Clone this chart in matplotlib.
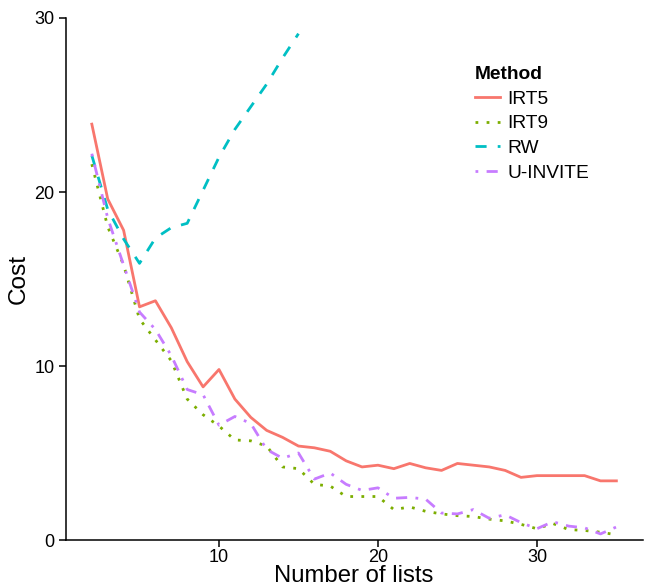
import numpy as np
import matplotlib
matplotlib.use("Agg")
import matplotlib.pyplot as plt

plt.rcParams['font.family'] = ['Liberation Sans', 'DejaVu Sans']

# Число списков
n_lists = list(range(2, 36))

# Стоимость для каждого метода
irt5 = [23.9, 19.6, 17.8, 13.4, 13.75, 12.2, 10.25, 8.8, 9.8, 8.1, 7.05, 6.3, 5.9, 5.4,
        5.3, 5.1, 4.55, 4.2, 4.3, 4.1, 4.4, 4.15, 4.0, 4.4, 4.3, 4.2, 4.0, 3.6,
        3.7, 3.7, 3.7, 3.7, 3.4, 3.4]
irt9 = [21.6, 18.0, 15.8, 12.7, 11.5, 10.3, 8.1, 7.2, 6.55, 5.75, 5.7, 5.4, 4.2, 4.1,
        3.2, 3.1, 2.5, 2.5, 2.5, 1.75, 1.9, 1.65, 1.5, 1.4, 1.35, 1.2, 1.1, 0.9,
        0.65, 0.95, 0.6, 0.55, 0.45, 0.3]
# RW выходит за 30 после 15 списков
rw_lists = list(range(2, 16))
rw = [22.1, 19.0, 17.3, 15.9, 17.35, 17.95, 18.2, 20.1, 22.0, 23.6, 24.9, 26.2, 27.7, 29.1]
uinvite = [22.2, 18.5, 15.8, 13.1, 12.1, 10.6, 8.65, 8.35, 6.6, 7.1, 6.7, 5.2, 4.7, 5.0,
           3.5, 3.85, 3.2, 2.85, 3.0, 2.4, 2.45, 2.35, 1.55, 1.5, 1.75, 1.25, 1.45, 1.0,
           0.65, 1.05, 0.8, 0.7, 0.35, 0.75]

fig = plt.figure(figsize=(6.45, 5.88), dpi=100)
ax = fig.add_axes([0.1017, 0.0816, 0.8946, 0.8878])

lw = 2.0
ax.plot(n_lists, irt5, color='#F8766D', lw=lw, linestyle='-', label='IRT5')
ax.plot(n_lists, irt9, color='#7CAE00', lw=lw, linestyle=(0, (1, 3)), label='IRT9')
ax.plot(rw_lists, rw, color='#00BFC4', lw=lw, linestyle=(0, (4, 4)), label='RW')
ax.plot(n_lists, uinvite, color='#C77CFF', lw=lw, linestyle=(0, (1, 3, 4, 3)), label='U-INVITE')

ax.set_xlim(0.35, 36.65)
ax.set_ylim(0, 30)
ax.set_xticks([10, 20, 30])
ax.set_yticks([0, 10, 20, 30])

for s in ['top', 'right']:
    ax.spines[s].set_visible(False)
for s in ['left', 'bottom']:
    ax.spines[s].set_linewidth(1.1)
ax.tick_params(axis='both', direction='out', length=5, width=1.1, labelsize=13, pad=3, colors='black')
ax.tick_params(axis='x', pad=1.5)

ax.set_xlabel('Number of lists', fontsize=17.2, labelpad=-0.5)
ax.set_ylabel('Cost', fontsize=17.6, labelpad=3)

leg = ax.legend(title='Method', loc='upper left', bbox_to_anchor=(475 / 645, 1 - 66 / 588),
                bbox_transform=fig.transFigure, frameon=False, fontsize=13.8,
                title_fontproperties={'weight': 'bold', 'size': 13.8},
                handlelength=1.3, handletextpad=0.4, labelspacing=0.38,
                alignment='left', borderpad=0, borderaxespad=0)

plt.savefig('out.png', dpi=100)
